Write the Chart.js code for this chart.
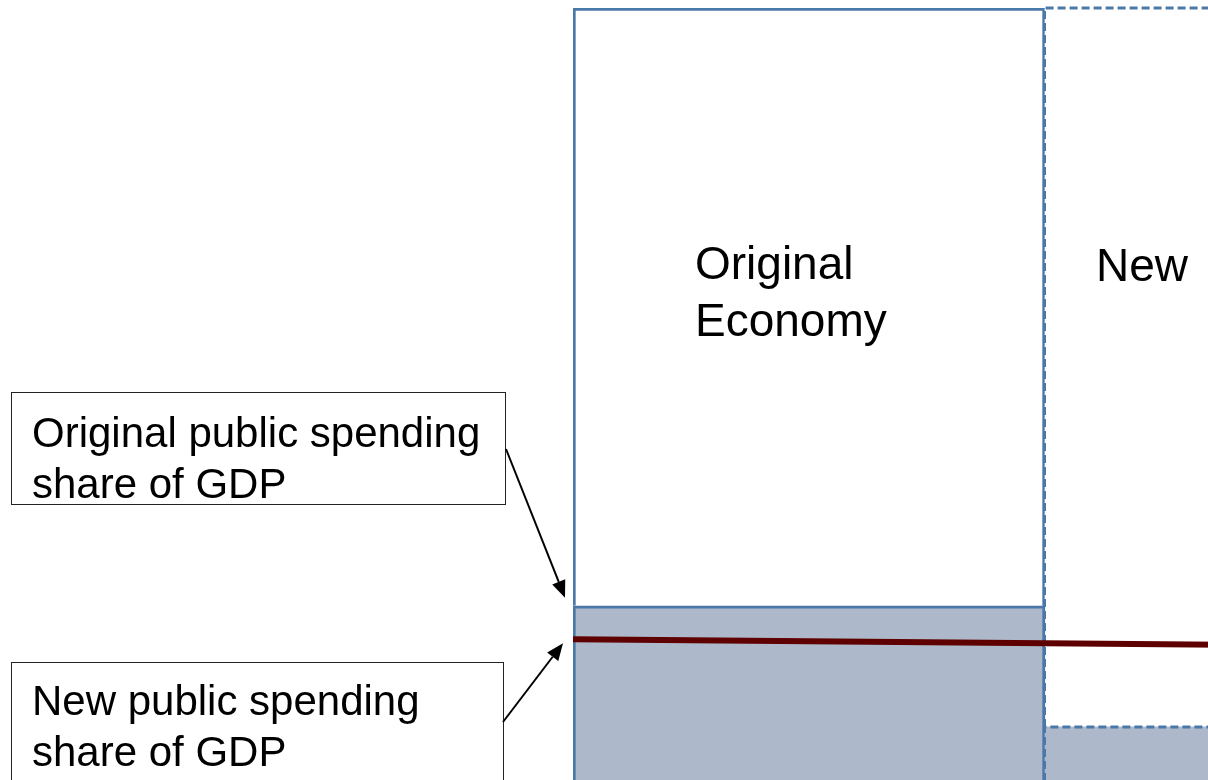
<!DOCTYPE html>
<html>
<head>
<meta charset="utf-8">
<script src="https://cdn.jsdelivr.net/npm/chart.js@4.4.1/dist/chart.umd.min.js"></script>
<style>
  html, body { margin: 0; padding: 0; width: 1208px; height: 780px; overflow: hidden; background: #fff; }
  canvas { display: block; }
</style>
</head>
<body>
<canvas id="myChart" width="1517" height="805"></canvas>
<script>
// datos (% del PIB)
const categories = ['Original Economy', 'New Economy'];
const publicShare = [25, 9.8];          // parte gris
const restShare = [75, 90.2];           // resto hasta 100
const newShareLine = [20.8, 19.8];      // linea roja, extremo izq. y der.
const lineX = [0, 2];

const callouts = [
    ['Original public spending', 'share of GDP'],
    ['New public spending', 'share of GDP']
];

const blue = '#4a78a8';
const grey = '#adb9ca';
const FONT = '"Liberation Sans", Arial, sans-serif';

// borde punteado para la barra nueva
const dashedBars = {
    id: 'dashedBars',
    afterDatasetDraw(chart, args) {
        const ds = chart.data.datasets[args.index];
        if (ds.type === 'line') return;
        const ctx = chart.ctx;
        const el = chart.getDatasetMeta(args.index).data[1];
        const p = el.getProps(['x', 'y', 'base', 'width'], true);
        const l = p.x - p.width / 2 - 0.5, r = p.x + p.width / 2 - 1.5, t = p.y;
        ctx.save();
        ctx.strokeStyle = blue;
        ctx.lineWidth = 3;
        ctx.setLineDash([8, 4]);
        ctx.beginPath();
        ctx.moveTo(l, p.base);
        ctx.lineTo(l, t);
        ctx.lineTo(r, t);
        ctx.lineTo(r, p.base);
        ctx.stroke();
        ctx.restore();
    }
};

function arrow(ctx, x1, y1, x2, y2) {
    const a = Math.atan2(y2 - y1, x2 - x1);
    const len = 17, w = 7;
    const bx = x2 - len * Math.cos(a), by = y2 - len * Math.sin(a);
    ctx.beginPath();
    ctx.moveTo(x1, y1);
    ctx.lineTo(bx, by);
    ctx.stroke();
    ctx.beginPath();
    ctx.moveTo(x2, y2);
    ctx.lineTo(bx + w * Math.sin(a), by - w * Math.cos(a));
    ctx.lineTo(bx - w * Math.sin(a), by + w * Math.cos(a));
    ctx.closePath();
    ctx.fill();
}

const labels = {
    id: 'labels',
    afterDraw(chart) {
        const ctx = chart.ctx;
        const area = chart.chartArea;
        const meta = chart.getDatasetMeta(1);
        ctx.save();
        ctx.fillStyle = '#000';
        ctx.textBaseline = 'alphabetic';

        // textos de las barras
        ctx.font = '46px ' + FONT;
        const b0 = meta.data[0], b1 = meta.data[1];
        const left0 = b0.x - b0.width / 2, left1 = b1.x - b1.width / 2;
        const w0 = categories[0].split(' ');
        ctx.fillText(w0[0], left0 + 122, 279);
        ctx.fillText(w0[1], left0 + 122, 336);
        ctx.fillText(categories[1].split(' ')[0], left1 + 51, 281);

        // cajas
        ctx.font = '42px ' + FONT;
        ctx.strokeStyle = '#222';
        ctx.lineWidth = 1;
        ctx.strokeRect(11.5, 392.5, 494, 112);
        ctx.fillText(callouts[0][0], 32, 447);
        ctx.fillText(callouts[0][1], 32, 498);
        ctx.strokeRect(11.5, 662.5, 492, 140);
        ctx.fillText(callouts[1][0], 32, 715);
        ctx.fillText(callouts[1][1], 32, 766);

        // flechas
        ctx.strokeStyle = '#000';
        ctx.lineWidth = 2;
        const yTop = chart.scales.y.getPixelForValue(publicShare[0]);
        const yLine = chart.scales.yl.getPixelForValue(newShareLine[0]);
        arrow(ctx, 506, 449, area.left - 8, yTop - 8);
        arrow(ctx, 503, 722, area.left - 10, yLine + 4);
        ctx.restore();
    }
};

var ctx = document.getElementById('myChart');
var myChart = new Chart(ctx, {
    data: {
        labels: categories,
        datasets: [
            {
                type: 'bar',
                label: 'Public spending',
                data: publicShare,
                backgroundColor: grey,
                borderColor: [blue, 'rgba(0,0,0,0)'],
                borderWidth: [3, 0],
                barPercentage: 1,
                categoryPercentage: 1,
                grouped: false,
                stack: 'gdp',
                order: 2
            },
            {
                type: 'bar',
                label: 'Rest of GDP',
                data: restShare,
                backgroundColor: '#fff',
                borderColor: [blue, 'rgba(0,0,0,0)'],
                borderWidth: [3, 0],
                barPercentage: 1,
                categoryPercentage: 1,
                grouped: false,
                stack: 'gdp',
                order: 2
            },
            {
                type: 'line',
                label: 'New public spending share',
                data: lineX.map((x, i) => ({ x: x, y: newShareLine[i] })),
                xAxisID: 'x2',
                yAxisID: 'yl',
                borderColor: '#5e0000',
                borderWidth: 6,
                pointRadius: 0,
                tension: 0,
                order: 0
            }
        ]
    },
    options: {
        responsive: false,
        animation: false,
        layout: { padding: { left: 573, top: 8, right: 0, bottom: 0 } },
        plugins: {
            legend: { display: false },
            tooltip: { enabled: false }
        },
        scales: {
            x: { display: false, stacked: true },
            x2: { type: 'linear', display: false, min: 0, max: 2 },
            y: { display: false, stacked: true, min: 0, max: 100 },
            yl: { display: false, min: 0, max: 100 }
        }
    },
    plugins: [dashedBars, labels]
});
</script>
</body>
</html>
